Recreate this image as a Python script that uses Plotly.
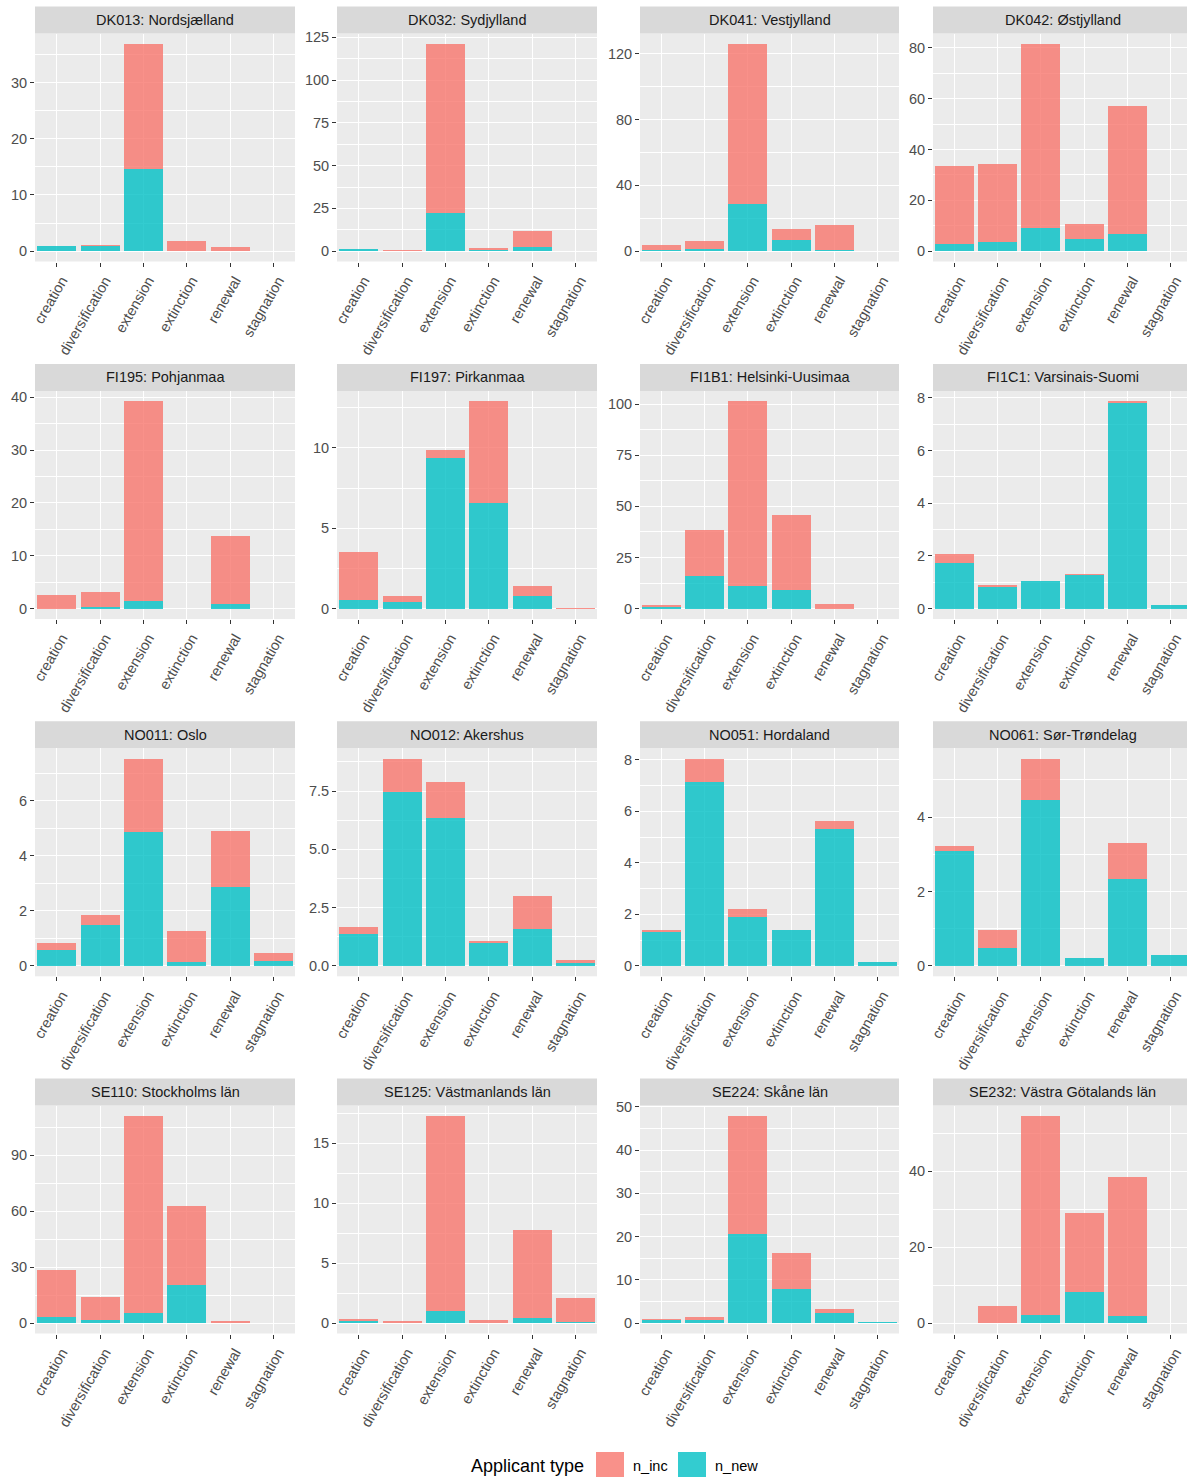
import plotly.graph_objects as go

# Application types per region, split by applicant type (stacked bars)
categories = ["creation", "diversification", "extension", "extinction", "renewal", "stagnation"]

regions = [
    "DK013: Nordsjælland", "DK032: Sydjylland", "DK041: Vestjylland", "DK042: Østjylland",
    "FI195: Pohjanmaa", "FI197: Pirkanmaa", "FI1B1: Helsinki-Uusimaa", "FI1C1: Varsinais-Suomi",
    "NO011: Oslo", "NO012: Akershus", "NO051: Hordaland", "NO061: Sør-Trøndelag",
    "SE110: Stockholms län", "SE125: Västmanlands län", "SE224: Skåne län", "SE232: Västra Götalands län",
]

n_new = [
    [1.0, 1.0, 14.7, 0.0, 0.0, 0.0],
    [1.0, 0.0, 22.2, 0.4, 2.4, 0.0],
    [0.6, 1.4, 28.7, 6.7, 0.6, 0.0],
    [2.8, 3.7, 9.1, 4.6, 6.6, 0.0],
    [0.0, 0.25, 1.4, 0.0, 0.8, 0.0],
    [0.55, 0.4, 9.4, 6.55, 0.8, 0.0],
    [0.7, 16.0, 10.9, 9.0, 0.0, 0.0],
    [1.73, 0.83, 1.04, 1.26, 7.8, 0.15],
    [0.58, 1.5, 4.87, 0.16, 2.87, 0.19],
    [1.38, 7.47, 6.36, 1.0, 1.58, 0.13],
    [1.3, 7.14, 1.9, 1.4, 5.33, 0.16],
    [3.09, 0.47, 4.46, 0.2, 2.34, 0.29],
    [3.2, 1.6, 5.4, 20.5, 0.0, 0.0],
    [0.15, 0.0, 1.0, 0.0, 0.45, 0.1],
    [0.8, 0.8, 20.5, 7.9, 2.3, 0.2],
    [0.0, 0.0, 2.1, 8.2, 1.9, 0.0],
]

n_inc = [
    [0.0, 0.05, 22.2, 1.8, 0.7, 0.0],
    [0.2, 0.6, 99.0, 1.2, 9.2, 0.0],
    [2.9, 4.7, 97.2, 6.5, 15.1, 0.0],
    [30.9, 30.8, 72.5, 5.9, 50.6, 0.0],
    [2.6, 2.85, 37.8, 0.0, 13.0, 0.0],
    [2.95, 0.37, 0.5, 6.35, 0.6, 0.05],
    [0.9, 22.6, 90.4, 36.9, 2.1, 0.0],
    [0.33, 0.06, 0.0, 0.06, 0.07, 0.0],
    [0.25, 0.35, 2.65, 1.11, 2.04, 0.27],
    [0.29, 1.42, 1.55, 0.09, 1.44, 0.13],
    [0.08, 0.9, 0.3, 0.0, 0.31, 0.0],
    [0.13, 0.5, 1.11, 0.0, 0.96, 0.0],
    [25.3, 12.4, 105.6, 42.5, 1.1, 0.0],
    [0.2, 0.15, 16.3, 0.25, 7.35, 2.0],
    [0.1, 0.6, 27.4, 8.4, 1.0, 0.0],
    [0.0, 4.5, 52.5, 20.7, 36.5, 0.0],
]

# Major y tick spacing for each panel (free y scales)
y_dtick = [10, 25, 40, 20, 10, 5, 25, 2, 2, 2.5, 2, 2, 30, 5, 10, 20]

legend_labels = ["n_inc", "n_new"]
legend_title = "Applicant type"

# ---- styling ----
W, H = 1187, 1477
FONT = "Liberation Sans"
COL_INC = "rgba(248,118,109,0.8)"
COL_NEW = "rgba(0,191,196,0.8)"
PANEL_BG = "#EBEBEB"
STRIP_BG = "#D9D9D9"

col_px = [(35, 295), (337, 597), (640, 899), (933, 1192)]
row_top = [33.5, 391.0, 748.3, 1105.5]
panel_h = 228.0
strip_h = 27.0


def fx(x):
    return x / W


def fy(y):
    return 1 - y / H


fig = go.Figure()
layout = {}
shapes = []
annotations = []

for i, region in enumerate(regions):
    r, c = divmod(i, 4)
    k = i + 1
    xa = "x" if k == 1 else f"x{k}"
    ya = "y" if k == 1 else f"y{k}"

    fig.add_trace(go.Bar(x=categories, y=n_new[i], marker=dict(color=COL_NEW, line=dict(width=0)),
                         name=legend_labels[1], xaxis=xa, yaxis=ya, showlegend=False))
    fig.add_trace(go.Bar(x=categories, y=n_inc[i], marker=dict(color=COL_INC, line=dict(width=0)),
                         name=legend_labels[0], xaxis=xa, yaxis=ya, showlegend=False))

    totals = [a + b for a, b in zip(n_new[i], n_inc[i])]
    ymax = max(totals)
    left, right = col_px[c]
    top = row_top[r]
    x_right = min(right, W)
    xr_hi = -0.5 + 6 * (x_right - left) / (right - left)

    tickfont = dict(family=FONT, size=14.5, color="#4D4D4D")
    layout[f"xaxis{k}"] = dict(
        domain=[fx(left), fx(x_right)], anchor=ya, type="category",
        categoryorder="array", categoryarray=categories, range=[-0.5, xr_hi],
        showgrid=True, gridcolor="white", gridwidth=1.3,
        ticks="outside", ticklen=4, tickwidth=1, tickcolor="#333333",
        tickangle=-60, tickfont=tickfont, ticklabelshift=5,
        showline=False, zeroline=False,
        automargin=False, fixedrange=True,
    )
    d = y_dtick[i]
    layout[f"yaxis{k}"] = dict(
        domain=[fy(top + panel_h), fy(top)], anchor=xa,
        range=[-0.05 * ymax, 1.05 * ymax], tick0=0, dtick=d,
        tickformat=".1f" if d == 2.5 else None,
        showgrid=True, gridcolor="white", gridwidth=1.3,
        minor=dict(tick0=0, dtick=d / 2, showgrid=True, gridcolor="white", gridwidth=0.6, ticks=""),
        ticks="outside", ticklen=4, tickwidth=1, tickcolor="#333333",
        tickfont=tickfont, showline=False, zeroline=False,
        automargin=False, fixedrange=True,
    )

    # facet strip
    shapes.append(dict(type="rect", xref="paper", yref="paper",
                       x0=fx(left), x1=fx(x_right), y0=fy(top), y1=fy(top - strip_h),
                       fillcolor=STRIP_BG, line=dict(width=0), layer="below"))
    annotations.append(dict(text=region, xref="paper", yref="paper",
                            x=fx((left + right) / 2), y=fy(top - strip_h / 2),
                            xanchor="center", yanchor="middle", showarrow=False,
                            font=dict(family=FONT, size=14.5, color="#1A1A1A")))

# legend drawn at the bottom centre
annotations.append(dict(text=legend_title, xref="paper", yref="paper", x=fx(469), y=fy(1466),
                        xanchor="left", yanchor="middle", showarrow=False,
                        font=dict(family=FONT, size=18, color="#000000")))
for lbl, col, kx in [(legend_labels[0], COL_INC, 596), (legend_labels[1], COL_NEW, 678)]:
    shapes.append(dict(type="rect", xref="paper", yref="paper",
                       x0=fx(kx), x1=fx(kx + 28), y0=fy(1480), y1=fy(1452),
                       fillcolor=col, line=dict(width=0)))
    annotations.append(dict(text=lbl, xref="paper", yref="paper", x=fx(kx + 35), y=fy(1466),
                            xanchor="left", yanchor="middle", showarrow=False,
                            font=dict(family=FONT, size=14.5, color="#000000")))

fig.update_layout(
    **layout,
    barmode="stack", bargap=0.1,
    width=W, height=H, autosize=False,
    margin=dict(l=0, r=0, t=0, b=0, autoexpand=False),
    paper_bgcolor="white", plot_bgcolor=PANEL_BG,
    shapes=shapes, annotations=annotations,
    showlegend=False,
    font=dict(family=FONT),
)

fig.write_html("out.html")
